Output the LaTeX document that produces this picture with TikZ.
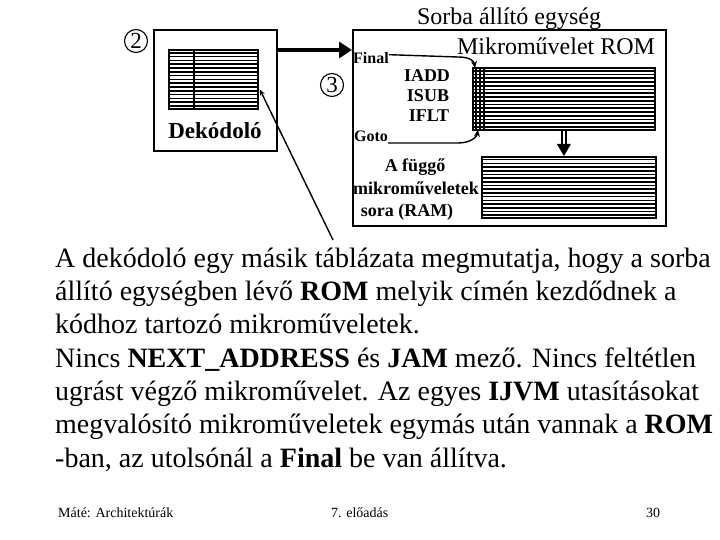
\documentclass[tikz,border=0pt]{standalone}
\usepackage{fontspec}
\setmainfont{Liberation Serif}
\usetikzlibrary{arrows.meta,calc}
\newcommand\mystripes[2]{%
  \foreach \i [evaluate=\i as \f using \i/(#2+1)] in {1,...,#2}
    \draw[line width=1.6pt] ($(#1.north west)!\f!(#1.south west)$) -- ($(#1.north east)!\f!(#1.south east)$);}
\begin{document}
\begin{tikzpicture}[x=1pt,y=-1pt,
  box/.style={draw, line width=1.6pt, inner sep=0pt, anchor=north west},
  tbl/.style={draw, line width=1.8pt, inner sep=0pt, anchor=north west},
  num/.style={draw, circle, line width=1.1pt, minimum size=23pt, inner sep=0pt, font=\fontsize{23}{25}\selectfont},
  lbl/.style={font=\bfseries\fontsize{18}{20}\selectfont, inner sep=0pt, anchor=base},
  sml/.style={font=\bfseries\fontsize{16}{18}\selectfont, inner sep=0pt, anchor=base west},
  body/.style={anchor=base west, inner sep=0pt, font=\fontsize{28}{33}\selectfont},
  foot/.style={anchor=base west, inner sep=0pt, font=\fontsize{14}{16}\selectfont},
  wire/.style={line width=1.4pt}]
\useasboundingbox[fill=white] (0,0) rectangle (720,540);

% decoder
\node[box, minimum width=123pt, minimum height=121pt] (decbox) at (153,29) {};
\node[tbl, minimum width=89pt, minimum height=59pt] (dtab) at (168,49) {};
\mystripes{dtab}{15}
\draw[line width=1.4pt] (194,49) -- (194,108);
\node[font=\bfseries\fontsize{23}{25}\selectfont, inner sep=0pt, anchor=base] (dek) at (215,139) {Dekódoló};
\node[num] (n2) at (136,41) {2};

% sequencer
\node[box, minimum width=313pt, minimum height=196pt] (rbox) at (352,29) {};
\node[num] (n3) at (332,85) {3};
\node[font=\fontsize{24}{26}\selectfont, inner sep=0pt, anchor=base] (sorba) at (509,25) {Sorba állító egység};
\node[font=\fontsize{24}{26}\selectfont, inner sep=0pt, anchor=base] (mrom) at (556,55) {Mikroművelet ROM};

\node[tbl, minimum width=182pt, minimum height=62pt] (rom) at (472,67) {};
\mystripes{rom}{16}
\foreach \xx in {476,480,484} \draw[line width=1.3pt] (\xx,67) -- (\xx,129);
\node[tbl, minimum width=174pt, minimum height=61pt] (ram) at (481,156) {};
\mystripes{ram}{16}

\node[lbl] (iadd) at (427,82) {IADD};
\node[lbl] (isub) at (428,102) {ISUB};
\node[lbl] (iflt) at (429,122) {IFLT};

\node[sml] (final) at (353,64) {Final};
\node[sml] (goto) at (354,142) {Goto};

\node[lbl] (t1) at (415,172) {A függő};
\node[lbl] (t2) at (416,195) {mikroműveletek};
\node[lbl] (t3) at (407,216) {sora (RAM)};

% connectors
\draw[wire, -{Stealth[length=7pt,width=6pt]}] (final.north east) ++(0,2) -- (458,57) .. controls (470,57) and (474,61) .. ($(rom.north west)+(3,1)$);
\draw[wire, -{Stealth[length=7pt,width=6pt]}] (goto.base east) ++(0,1) -- (458,143) .. controls (472,143) and (477,136) .. ($(rom.south west)+(6,-1)$);

\draw[line width=4pt, -{Triangle[length=13pt,width=16pt]}] ($(decbox.north east)+(0,21)$) -- ($(rbox.north west)+(0,21)$);

\draw[line width=1.3pt] ($(rom.south)+(-2,0)$) -- ($(ram.north)+(-7,-11)$);
\draw[line width=1.3pt] ($(rom.south)+(2,0)$) -- ($(ram.north)+(-3,-11)$);
\fill ($(ram.north)+(-12,-12)$) -- ($(ram.north)+(2,-12)$) -- ($(ram.north)+(-5,0)$) -- cycle;

\coordinate (ptr) at (333,240);
\draw[line width=1.4pt, -{Stealth[length=6pt,width=5pt]}] (ptr) -- ($(dtab.east)+(1,10)$);

% body text
\node[body] (l1) at (55,267) {A dekódoló egy másik táblázata megmutatja, hogy a sorba};
\node[body] (l2) at (55,300) {állító egységben lévő \textbf{ROM} melyik címén kezdődnek a};
\node[body] (l3) at (55,333) {kódhoz tartozó mikroműveletek.};
\node[body] (l4) at (55,367) {Nincs \textbf{NEXT\_ADDRESS} és \textbf{JAM} mező. Nincs feltétlen};
\node[body] (l5) at (55,400) {ugrást végző mikroművelet. Az egyes \textbf{IJVM} utasításokat};
\node[body] (l6) at (55,433) {megvalósító mikroműveletek egymás után vannak a \textbf{ROM}};
\node[body] (l7) at (55,467) {-ban, az utolsónál a \textbf{Final} be van állítva.};

% footer
\node[foot] (f1) at (58,517) {Máté: Architektúrák};
\node[foot] (f2) at (331,517) {7. előadás};
\node[foot] (f3) at (646,517) {30};
\end{tikzpicture}
\end{document}
